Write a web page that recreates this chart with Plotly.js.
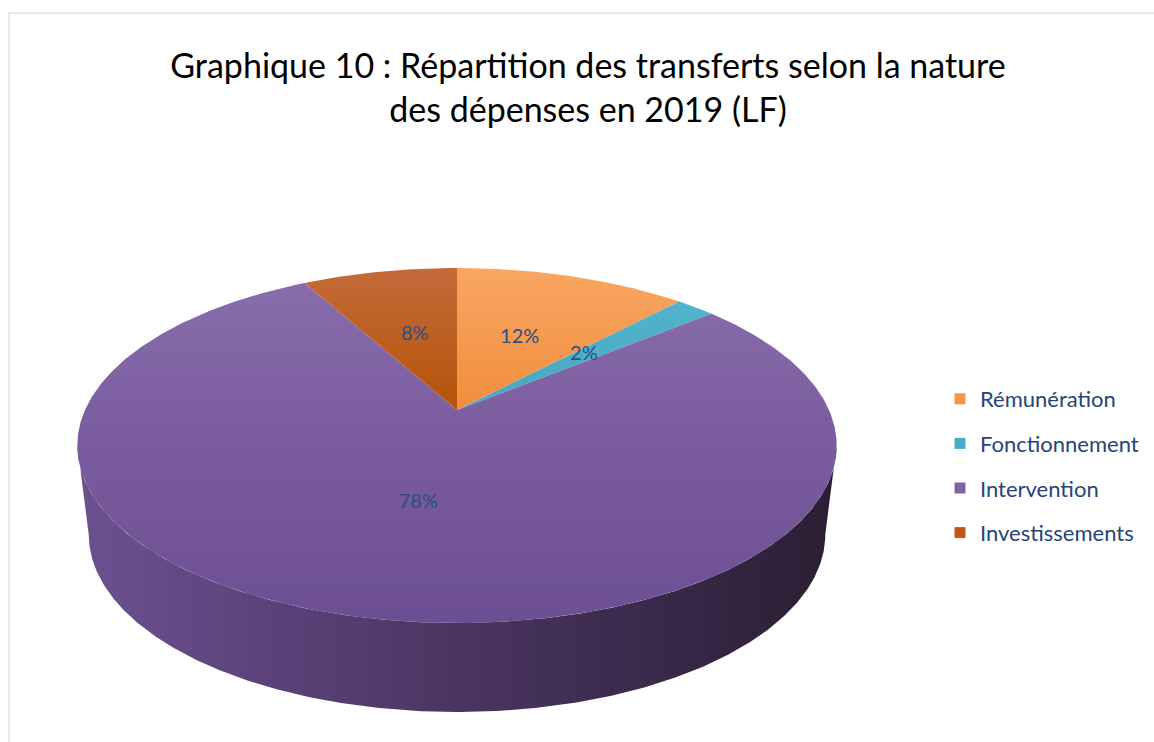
<!DOCTYPE html>
<html>
<head>
<meta charset="utf-8">
<script src="https://cdn.plot.ly/plotly-3.0.1.min.js"></script>
<style>html,body{margin:0;padding:0;background:#fff;}#chart{width:1154px;height:742px;}</style>
</head>
<body>
<div id="chart"></div>
<script>
// ---- data ----
const categories = ['Rémunération', 'Fonctionnement', 'Intervention', 'Investissements'];
const values = [12, 2, 78, 8];
const labelTexts = values.map(v => v + '%');

// ---- styles ----
const topScales = [
  [[0, '#F8A662'], [0.4, '#F28D3C'], [1, '#E0741C']],
  [[0, '#55B6CF'], [0.4, '#47A8C3'], [1, '#3A94AE']],
  [[0, '#8A6EAD'], [0.5, '#7A5C9E'], [1, '#6C4F92']],
  [[0, '#C46A3A'], [0.4, '#B55408'], [1, '#A24A05']]
];
const sideScales = [
  [[0, '#E8842E'], [1, '#7A3D0A']],
  [[0, '#3E9CB8'], [1, '#1E5565']],
  [[0, '#6C5191'], [0.5, '#4A3562'], [1, '#2A1E33']],
  [[0, '#A04A08'], [1, '#4A2204']]
];
const legendColors = ['#F79646', '#4BACC6', '#8064A2', '#C0561A'];

// ---- geometry (pixel space) ----
const W = 1154, H = 742;
const cx = 457, cy = 410, A = 372, B = 170.4, P = 0.2, DEPTH = 89, BSCALE = 0.97;

function proj(phi, r) {
  const u = r * Math.sin(phi), v = r * Math.cos(phi);
  const k = 1 / (1 + P * v);
  return [cx + A * u * k, cy - B * v * k];
}
function projBottom(phi) {
  const t = proj(phi, 1);
  return [cx + (t[0] - cx) * BSCALE, t[1] + DEPTH];
}
const deg = Math.PI / 180;
function arc(p0, p1, fn) {
  const pts = [];
  const n = Math.max(2, Math.ceil((p1 - p0) / (0.5 * deg)));
  for (let i = 0; i <= n; i++) pts.push(fn(p0 + (p1 - p0) * i / n));
  return pts;
}

// silhouette angles (left/right extremes of the ellipse)
let phiR = 0, phiL = 0, maxX = -1e9, minX = 1e9;
for (let a = 0; a <= 360; a += 0.1) {
  const p = proj(a * deg, 1);
  if (p[0] > maxX) { maxX = p[0]; phiR = a * deg; }
  if (p[0] < minX) { minX = p[0]; phiL = a * deg; }
}
const yTop = proj(0, 1)[1], yBot = proj(Math.PI, 1)[1];

const total = values.reduce((s, v) => s + v, 0);
const traces = [];
const walls = [], tops = [];
let cum = 0;
const labX = [], labY = [];
values.forEach((val, i) => {
  const p0 = 2 * Math.PI * cum / total;
  const p1 = 2 * Math.PI * (cum + val) / total;
  cum += val;
  // top face
  const pts = [[cx, cy]].concat(arc(p0, p1, ph => proj(ph, 1)));
  pts.push([cx, cy]);
  tops.push({
    type: 'scatter', mode: 'lines', fill: 'toself',
    x: pts.map(q => q[0]), y: pts.map(q => q[1]),
    line: {width: 0, color: 'rgba(0,0,0,0)'},
    fillgradient: {type: 'vertical', start: yTop, stop: yBot, colorscale: topScales[i]},
    hoverinfo: 'skip', showlegend: false
  });
  // side wall
  const a0 = Math.max(p0, phiR), a1 = Math.min(p1, phiL);
  if (a1 > a0) {
    const t = arc(a0, a1, ph => proj(ph, 1));
    const b = arc(a0, a1, projBottom).reverse();
    const all = t.concat(b); all.push(t[0]);
    walls.push({
      type: 'scatter', mode: 'lines', fill: 'toself',
      x: all.map(q => q[0]), y: all.map(q => q[1]),
      line: {width: 0, color: 'rgba(0,0,0,0)'},
      fillgradient: {type: 'horizontal', start: minX, stop: maxX, colorscale: sideScales[i]},
      hoverinfo: 'skip', showlegend: false
    });
  }
  const mid = (p0 + p1) / 2;
  const lp = proj(mid, 0.5);
  labX.push(lp[0]); labY.push(lp[1]);
});

traces.push(...walls, ...tops);
traces.push({
  type: 'scatter', mode: 'text', x: labX, y: labY, text: labelTexts,
  textposition: 'middle center',
  textfont: {family: 'Lato, sans-serif', size: 20, color: '#2A4F82'},
  hoverinfo: 'skip', showlegend: false
});
categories.forEach((c, i) => {
  traces.push({
    type: 'scatter', mode: 'markers', x: [null], y: [null], name: c,
    legendgroup: 'g' + i,
    marker: {symbol: 'square', size: 11, color: legendColors[i]},
    hoverinfo: 'skip', showlegend: true
  });
});

const layout = {
  width: W, height: H, autosize: false,
  margin: {l: 0, r: 0, t: 0, b: 0},
  paper_bgcolor: '#fff', plot_bgcolor: '#fff',
  xaxis: {range: [0, W], visible: false, fixedrange: true},
  yaxis: {range: [H, 0], visible: false, fixedrange: true},
  title: {
    text: 'Graphique 10 : Répartition des transferts selon la nature<br>des dépenses en 2019 (LF)',
    font: {family: 'Lato, sans-serif', size: 34, color: '#000'},
    x: 588 / W, xanchor: 'center', xref: 'container',
    y: 1 - 78 / H, yanchor: 'middle', yref: 'container'
  },
  legend: {
    x: 940 / W, xanchor: 'left', y: 1 - 378 / H, yanchor: 'top',
    font: {family: 'Lato, sans-serif', size: 22, color: '#264478'},
    tracegroupgap: 13, bgcolor: 'rgba(0,0,0,0)'
  },
  shapes: [{
    type: 'rect', xref: 'x', yref: 'y', x0: 9, y0: 13, x1: W + 10, y1: H + 10,
    line: {color: '#D9E3F2', width: 1.5}, layer: 'below'
  }],
  showlegend: true
};
Plotly.newPlot('chart', traces, layout, {displayModeBar: false, staticPlot: true});
</script>
</body>
</html>
